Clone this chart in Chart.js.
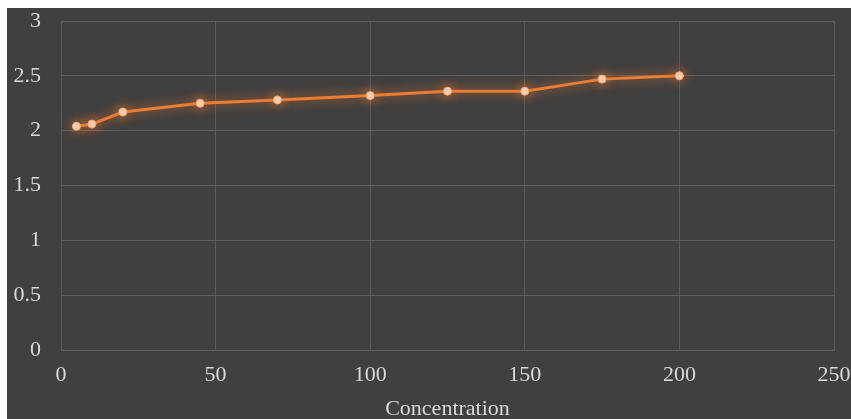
<!DOCTYPE html>
<html>
<head>
<meta charset="utf-8">
<script src="https://cdn.jsdelivr.net/npm/chart.js@4"></script>
<style>
  html, body { margin: 0; padding: 0; background: #ffffff; }
  #box { position: absolute; left: 7px; top: 8px; width: 844px; height: 411px; background: #404040; }
</style>
</head>
<body>
<div id="box"><canvas id="myChart"></canvas></div>
<script>
// valores
var concentracao = [5, 10, 20, 45, 70, 100, 125, 150, 175, 200];
var valores = [2.04, 2.06, 2.17, 2.25, 2.28, 2.32, 2.36, 2.36, 2.47, 2.50];
var xTicks = [0, 50, 100, 150, 200, 250];
var yTicks = [0, 0.5, 1, 1.5, 2, 2.5, 3];

var pontos = concentracao.map(function (c, i) { return { x: c, y: valores[i] }; });

// brilho laranja na linha
var glow = {
  id: 'glow',
  beforeDatasetsDraw: function (chart) {
    var ctx = chart.ctx;
    ctx.save();
    ctx.shadowColor = 'rgba(237,125,49,0.85)';
    ctx.shadowBlur = 12;
  },
  afterDatasetsDraw: function (chart) {
    chart.ctx.restore();
  }
};

var fonte = { family: '"Liberation Serif", "Times New Roman", serif', size: 22 };

var ctx = document.getElementById('myChart').getContext('2d');
var chart = new Chart(ctx, {
  type: 'scatter',
  data: {
    datasets: [{
      label: 'Serie',
      data: pontos,
      showLine: true,
      borderColor: '#ED7D31',
      borderWidth: 3,
      pointRadius: 4,
      pointBackgroundColor: '#FAD3B8',
      pointBorderColor: '#F4A877',
      pointBorderWidth: 1
    }]
  },
  options: {
    responsive: true,
    maintainAspectRatio: false,
    animation: false,
    layout: { padding: { left: 0, right: 17, top: 13, bottom: 0 } },
    plugins: {
      legend: { display: false },
      tooltip: { enabled: false }
    },
    scales: {
      x: {
        type: 'linear',
        min: 0,
        max: 250,
        afterBuildTicks: function (axis) { axis.ticks = xTicks.map(function (v) { return { value: v }; }); },
        afterFit: function (axis) {
          axis.height = 69;
          axis.paddingLeft = 0;
          axis.paddingRight = 0;
        },
        grid: { color: '#5c5c5c', lineWidth: 1, drawTicks: false },
        border: { color: '#5c5c5c' },
        ticks: { color: '#d9d9d9', font: fonte, padding: 12, maxRotation: 0 },
        title: {
          display: true,
          text: 'Concentration',
          color: '#d9d9d9',
          font: fonte,
          padding: { top: 0, bottom: -3 }
        }
      },
      y: {
        min: 0,
        max: 3,
        afterBuildTicks: function (axis) { axis.ticks = yTicks.map(function (v) { return { value: v }; }); },
        afterFit: function (axis) {
          axis.width = 54;
          axis.paddingTop = 0;
          axis.paddingBottom = 0;
        },
        grid: { color: '#5c5c5c', lineWidth: 1, drawTicks: false },
        border: { color: '#5c5c5c' },
        ticks: {
          color: '#d9d9d9',
          font: fonte,
          padding: 20,
          callback: function (v) { return String(v); }
        }
      }
    }
  },
  plugins: [glow]
});
</script>
</body>
</html>
